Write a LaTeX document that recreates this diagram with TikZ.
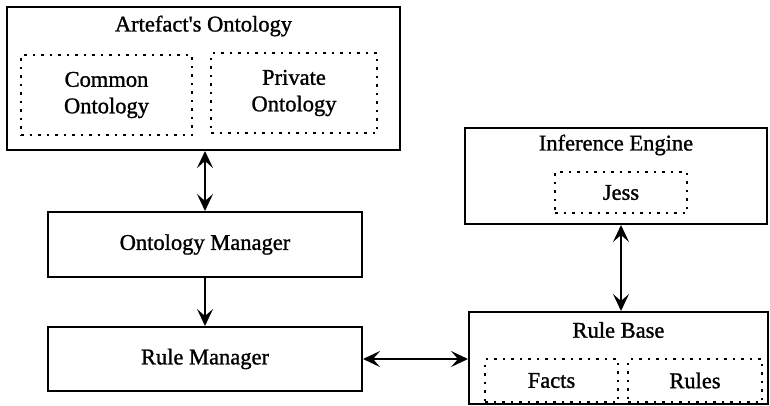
\documentclass[tikz,border=0pt]{standalone}
\usepackage{fontspec}
\setmainfont{Liberation Serif}[FakeBold=1.2]
\usetikzlibrary{arrows.meta}
\begin{document}
\begin{tikzpicture}[x=1pt,y=-1pt,
  box/.style={draw,line width=2pt,rectangle,inner sep=0pt},
  dbox/.style={draw,line width=1.8pt,dash pattern=on 2.5pt off 6pt,rectangle,inner sep=0pt,align=center},
  txt/.style={inner sep=0pt,font=\fontsize{22.5}{26.5}\selectfont},
  arr/.style={line width=1.8pt,-{Stealth[length=17pt,width=16pt,inset=7pt]}},
  darr/.style={line width=1.8pt,{Stealth[length=17pt,width=16pt,inset=7pt]}-{Stealth[length=17pt,width=16pt,inset=7pt]}}
]
\useasboundingbox (0,0) rectangle (770,405);
% Artefact's Ontology
\node[box,minimum width=393pt,minimum height=143pt] (AO) at (203.5,78.5) {};
\node[txt] (AOt) at (203.5,26) {Artefact\textquotesingle s Ontology};
\node[dbox,txt,minimum width=171pt,minimum height=80pt,align=center] (CO) at (106.5,95) {Common\\Ontology};
\node[dbox,txt,minimum width=166pt,minimum height=80pt,align=center] (PO) at (294,93) {Private\\Ontology};
% Ontology Manager
\node[box,txt,minimum width=314pt,minimum height=65pt] (OM) at (205,244.5) {Ontology Manager};
% Rule Manager
\node[box,txt,minimum width=314pt,minimum height=64pt] (RM) at (205,359) {Rule Manager};
% Inference Engine
\node[box,minimum width=302pt,minimum height=96pt] (IE) at (616,176) {};
\node[txt] (IEt) at (616,145) {Inference Engine};
\node[dbox,txt,minimum width=132pt,minimum height=41pt] (JE) at (621,192.5) {Jess};
% Rule Base
\node[box,minimum width=299pt,minimum height=92pt] (RB) at (618.5,358) {};
\node[txt] (RBt) at (618.5,330) {Rule Base};
\node[dbox,txt,minimum width=133pt,minimum height=43pt] (FA) at (551.5,380.5) {Facts};
\node[dbox,txt,minimum width=134pt,minimum height=43pt] (RU) at (695,380.5) {Rules};
% connectors
\draw[darr] (OM.north |- AO.south) -- (OM.north);
\draw[arr] (OM.south) -- (RM.north);
\draw[darr] (RM.east) -- (RB.west |- RM.east);
\draw[darr] (JE.south |- IE.south) -- (JE.south |- RB.north);
\end{tikzpicture}
\end{document}
